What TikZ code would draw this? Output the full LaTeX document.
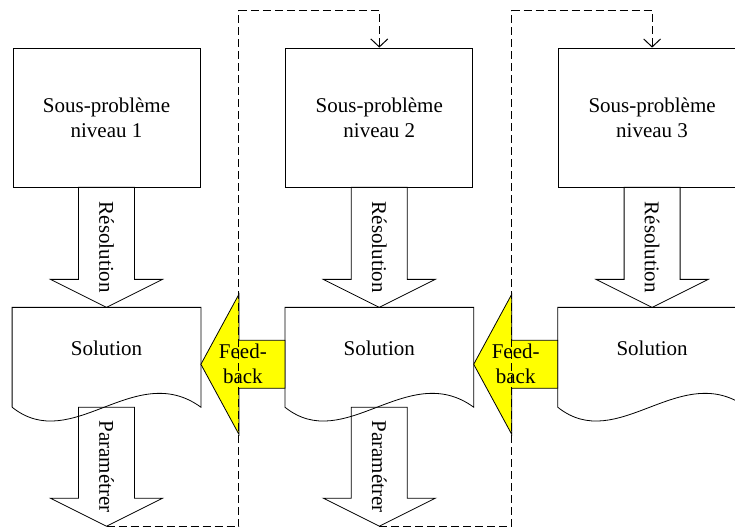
\documentclass[tikz,border=0pt]{standalone}
\usepackage{fontspec}
\setmainfont{Liberation Serif}
\usetikzlibrary{calc, positioning, arrows.meta}
\definecolor{fbyellow}{RGB}{255,255,0}

\begin{document}
\begin{tikzpicture}[x=1pt, y=1pt, line width=0.8pt,
    font=\fontsize{21}{25}\selectfont,
    probbox/.style={draw, minimum width=187pt, minimum height=139pt, align=center},
    docnode/.style={minimum width=188pt, minimum height=113pt, text height=12pt, text depth=29pt},
    blockdown/.style={to path={($(\tikztostart)+(-28,0)$) |- ($(\tikztotarget)+(-56,28)$) -- (\tikztotarget)
                               -- ++(56,28) -| ($(\tikztostart)+(28,0)$) -- cycle}},
    blockleft/.style={to path={($(\tikztostart)+(0,24)$) -| ($(\tikztotarget)+(38,70)$) -- (\tikztotarget)
                               -- ++(38,-70) |- ($(\tikztostart)+(0,-24)$) -- cycle}},
    feedback/.style={draw, fill=fbyellow, blockleft},
    vtext/.style={rotate=-90},
    loopback/.style={line width=1pt, dash pattern=on 8pt off 4pt, -{Straight Barb[length=8pt, width=17pt]}},
]
\clip (0,0) rectangle (735,527);

\node[probbox] (prob1) at (106.5,409.5) {Sous-problème\\niveau 1};
\node[probbox, right=85pt of prob1] (prob2) {Sous-problème\\niveau 2};
\node[probbox, right=85pt of prob2] (prob3) {Sous-problème\\niveau 3};

\foreach \i in {1,2,3}{
  \node[docnode, below=120pt of prob\i] (sol\i) {Solution};
  \coordinate (foot\i) at ($(sol\i.south)+(0,14)$);
  % document outline with wavy bottom
  \draw ($(sol\i.south west)+(0,14)$) |- (sol\i.north east) -- ($(sol\i.south east)+(0,14)$)
        .. controls +(-66,48) and +(60,-48) .. ($(sol\i.south west)+(0,14)$);
  \draw (prob\i.south) to[blockdown] (sol\i.north);
  \node[vtext] (res\i) at ($(prob\i.south)!0.5!(sol\i.north)$) {Résolution};
}

\foreach \i/\j in {1/2, 2/3}{
  \coordinate[below=119pt of foot\i] (tip\i);
  \draw (foot\i) to[blockdown] (tip\i);
  \node[vtext] (par\i) at ($(foot\i)!0.5!(tip\i)$) {Paramétrer};
  \draw[feedback] (sol\j.west) to (sol\i.east);
  \node[align=center] (fb\i) at ($(sol\i.east)!0.5!(sol\j.west)$) {Feed-\\back};
  \draw[loopback] (tip\i) -| ($(sol\i.east)+(38,0)$) |- ($(prob\j.north)+(0,37)$) -- (prob\j.north);
}

\end{tikzpicture}
\end{document}
